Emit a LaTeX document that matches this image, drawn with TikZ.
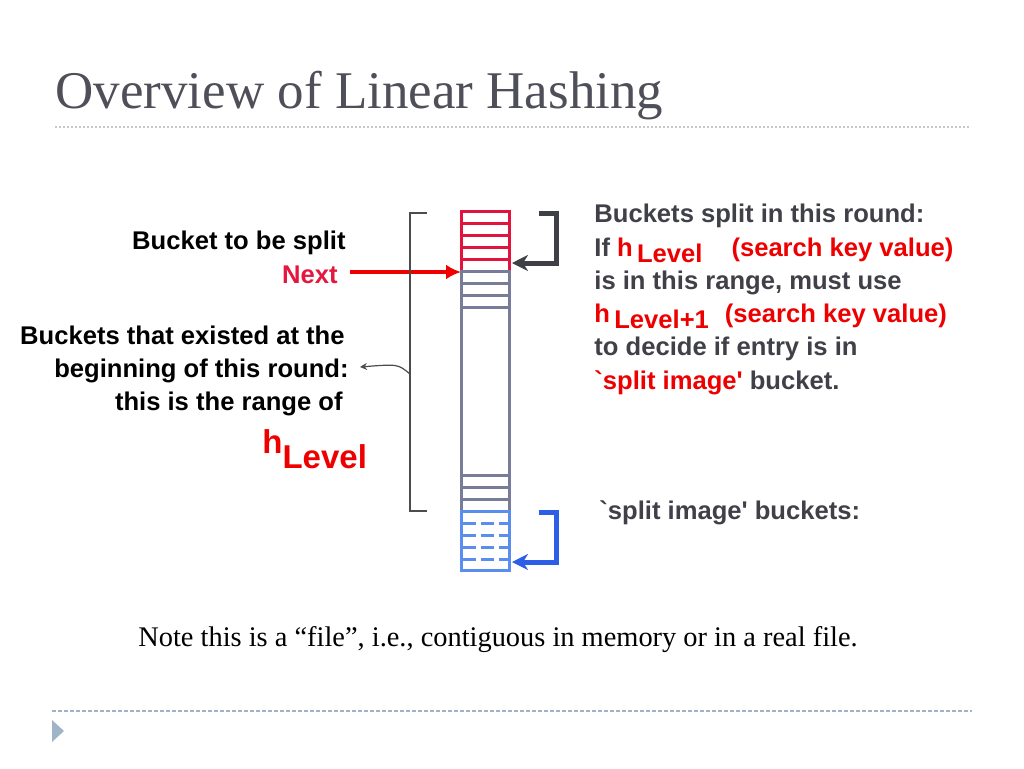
\documentclass[tikz,border=0pt]{standalone}
\usepackage{fontspec}
\setmainfont{Liberation Serif}
\setsansfont{Liberation Sans}[Ligatures=TeXOff]
\usetikzlibrary{arrows.meta}

\definecolor{titlegray}{HTML}{4F4F5A}
\definecolor{notegray}{HTML}{404048}
\definecolor{bracketgray}{HTML}{3F3F48}
\definecolor{slategray}{HTML}{777D99}
\definecolor{bucketred}{HTML}{E0143C}
\definecolor{nextred}{HTML}{E4173E}
\definecolor{hred}{HTML}{EE0000}
\definecolor{bucketblue}{HTML}{5B8DEF}
\definecolor{arrowblue}{HTML}{2C5EE8}
\definecolor{dotgray}{HTML}{C8C8C8}
\definecolor{dashblue}{HTML}{9FB4C8}

\tikzset{
	boldtext/.style={inner sep=0, font=\sffamily\bfseries\fontsize{12.8}{15}\selectfont},
	lefttext/.style={boldtext, anchor=base east},
	righttext/.style={boldtext, anchor=base west, text=notegray},
	slot/.style={line width=1.5pt},
	bracketarrow/.style={line width=2.5pt, -{Stealth[length=8pt,width=8pt,inset=2.5pt]}},
}

\begin{document}
\begin{tikzpicture}[x=0.5pt,y=-0.5pt]
	\useasboundingbox (0,0) rectangle (1024,768);

	% title and rules
	\node[anchor=base west, inner sep=0, text=titlegray, font=\fontsize{26.5}{30}\selectfont] (title) at (55,108) {Overview of Linear Hashing};
	\draw[dotgray, line width=1pt, dash pattern=on 1pt off 1pt] (55,127) -- (970,127);
	\draw[dashblue, line width=1pt, dash pattern=on 2pt off 1pt] (52,711) -- (972,711);
	\fill[dashblue] (52,720) -- (64,731) -- (52,742) -- cycle;

	% the file of buckets
	\draw[slot, bucketred] (461,211) rectangle (509,271);
	\foreach \y in {223,235,247,259}
		\draw[slot, bucketred] (461,\y) -- (509,\y);
	\draw[slot, slategray] (461,271) rectangle (509,511);
	\foreach \y in {283,295,307,475,487,499}
		\draw[slot, slategray] (461,\y) -- (509,\y);
	\draw[slot, bucketblue] (461,511) rectangle (509,570);
	\foreach \y in {523,535,547,559}
		\draw[slot, bucketblue, dash pattern=on 6.5pt off 2.5pt] (463,\y) -- (508,\y);

	% labels on the left
	\node[lefttext] (tosplit) at (346,249) {Bucket to be split};
	\node[lefttext, text=nextred] (next) at (338,283) {Next};
	\node[lefttext] (existed1) at (345,344) {Buckets that existed at the};
	\node[lefttext] (existed2) at (349,377) {beginning of this round:};
	\node[lefttext] (existed3) at (343,410) {this is the range of};
	\node[boldtext, anchor=base west, text=hred, font=\sffamily\bfseries\fontsize{16.5}{18}\selectfont] (hlevel) at (262,453) {h\raisebox{-7.5pt}{Level}};

	% labels on the right
	\node[righttext] (round1) at (594,222) {Buckets split in this round:};
	\node[righttext] (round2) at (594,256) {If {\color{hred}h\,\raisebox{-3pt}{Level}\hspace{14.5pt}(search key value)}};
	\node[righttext] (round3) at (594,289) {is in this range, must use};
	\node[righttext] (round4) at (594,322) {{\color{hred}h\,\raisebox{-3pt}{Level+1}\hspace{8pt}(search key value)}};
	\node[righttext] (round5) at (594,355) {to decide if entry is in};
	\node[righttext] (round6) at (594,389) {{\color{hred}`split image'} bucket.};
	\node[righttext] (imagenote) at (599,519) {`split image' buckets:};

	\node[anchor=base west, inner sep=0, font=\fontsize{14.2}{16}\selectfont] (note) at (138,646) {Note this is a “file”, i.e., contiguous in memory or in a real file.};

	% arrows and brackets
	\coordinate (nexttail) at (350,272);
	\coordinate (nextslot) at (461,272);
	\draw[hred, line width=2.3pt, -{Latex[length=7.5pt,width=7.5pt]}] (nexttail) -- (nextslot);

	\coordinate (rangetop) at (427,213);
	\coordinate (rangebot) at (427,511);
	\coordinate (rangemid) at (410,374);
	\coordinate (rangetip) at (360,367);
	\draw[black!70, line width=0.6pt] (rangetop) -- ++(-17,0) -- ++(0,298) -- (rangebot);
	\draw[black!70, line width=0.6pt, -{Stealth[length=3.5pt,width=3.5pt]}] (rangemid) .. controls (398,364) .. (rangetip);

	\coordinate (oldtop) at (539,213);
	\coordinate (oldend) at (512,263);
	\draw[bracketarrow, bracketgray] (oldtop) -- ++(17,0) |- (oldend);

	\coordinate (newtop) at (539,512);
	\coordinate (newend) at (512,562);
	\draw[bracketarrow, arrowblue] (newtop) -- ++(17,0) |- (newend);

\end{tikzpicture}
\end{document}
